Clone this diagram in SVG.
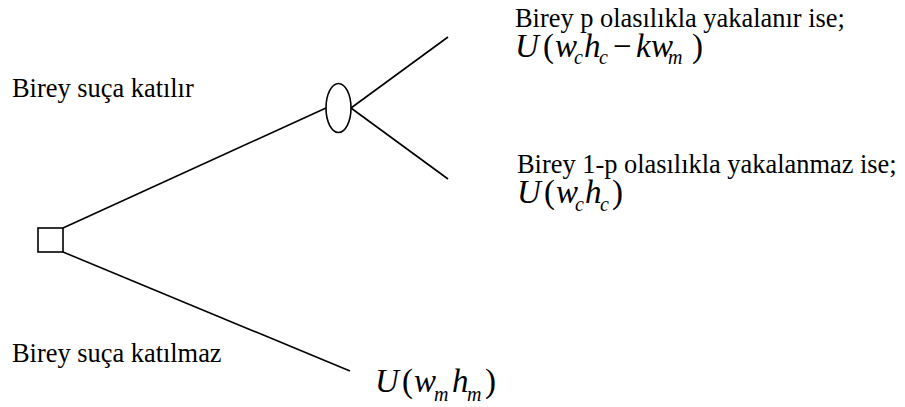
<svg xmlns="http://www.w3.org/2000/svg" width="905" height="407" viewBox="0 0 905 407">
<style>
.ln{stroke:#000;stroke-width:1.6;fill:none}
.nd{stroke:#000;stroke-width:1.6;fill:#fff}
.lb{font-family:"Liberation Serif","Times New Roman",serif;font-size:26.4px;fill:#000}
.eq{font-family:"Liberation Serif","Times New Roman",serif;font-size:33px;fill:#000}
.it{font-style:italic}
.sb{font-size:20px;font-style:italic}
</style>
<rect width="905" height="407" fill="#fff"/>
<g id="connectors">
<line class="ln" x1="63" y1="228" x2="326" y2="108"/>
<line class="ln" x1="351" y1="108" x2="448" y2="37"/>
<line class="ln" x1="351" y1="108" x2="448" y2="179"/>
<line class="ln" x1="63" y1="252" x2="350" y2="371"/>
</g>
<g id="decision">
<rect class="nd" x="38" y="228" width="25" height="24"/>
</g>
<g id="chance">
<ellipse class="nd" cx="338.5" cy="108" rx="12.5" ry="24.5"/>
</g>
<g id="label-katilir">
<text class="lb" x="12" y="97">Birey suça katılır</text>
</g>
<g id="label-katilmaz">
<text class="lb" x="12" y="362">Birey suça katılmaz</text>
</g>
<g id="outcome-caught">
<text class="lb" x="515" y="27">Birey p olasılıkla yakalanır ise;</text>
<text class="eq"><tspan class="it" x="515" y="57">U</tspan><tspan x="543" y="57">(</tspan><tspan class="it" x="555" y="57">w</tspan><tspan class="sb" x="574" y="64">c</tspan><tspan class="it" x="584" y="57">h</tspan><tspan class="sb" x="599" y="64">c</tspan><tspan x="613" y="57">−</tspan><tspan class="it" x="636" y="57">k</tspan><tspan class="it" x="651" y="57">w</tspan><tspan class="sb" x="668" y="64">m</tspan><tspan x="692" y="57">)</tspan></text>
</g>
<g id="outcome-notcaught">
<text class="lb" x="517" y="173">Birey 1-p olasılıkla yakalanmaz ise;</text>
<text class="eq"><tspan class="it" x="517" y="203">U</tspan><tspan x="544" y="203">(</tspan><tspan class="it" x="556" y="203">w</tspan><tspan class="sb" x="575" y="211">c</tspan><tspan class="it" x="585" y="203">h</tspan><tspan class="sb" x="600" y="211">c</tspan><tspan x="612" y="203">)</tspan></text>
</g>
<g id="outcome-nocrime">
<text class="eq"><tspan class="it" x="375" y="392">U</tspan><tspan x="402" y="392">(</tspan><tspan class="it" x="414" y="392">w</tspan><tspan class="sb" x="434" y="401">m</tspan><tspan class="it" x="452" y="392">h</tspan><tspan class="sb" x="467" y="401">m</tspan><tspan x="485" y="392">)</tspan></text>
</g>
</svg>
